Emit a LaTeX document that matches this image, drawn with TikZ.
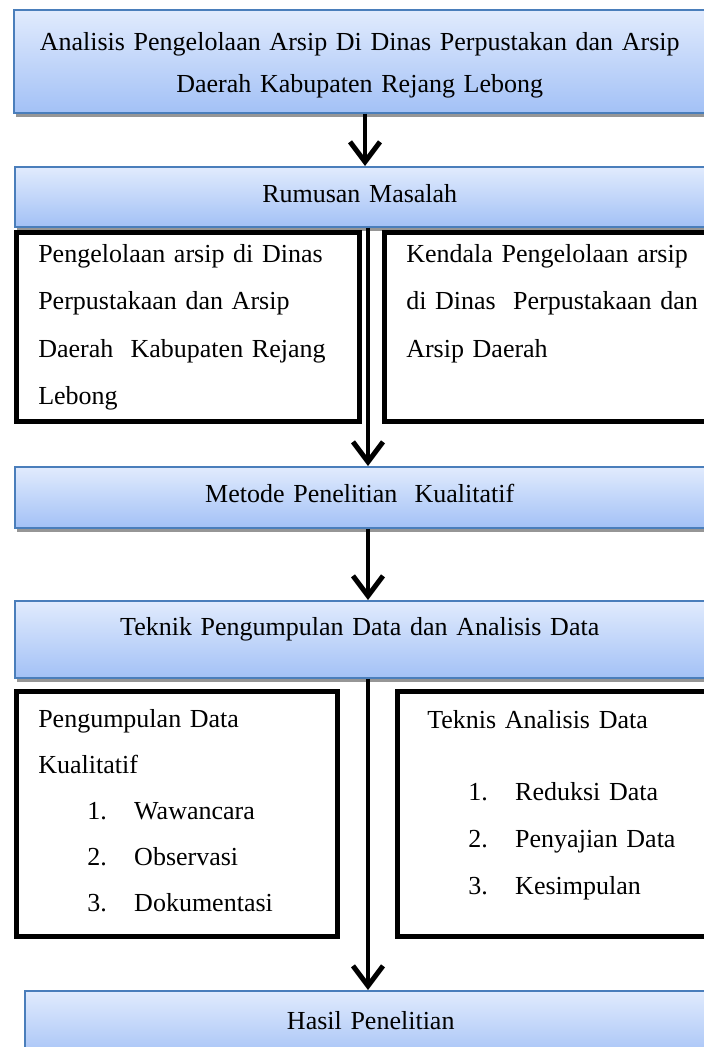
\documentclass[tikz,border=0pt]{standalone}
\usepackage{fontspec}
\setmainfont{Liberation Serif}
\usepackage{xcolor}
\usetikzlibrary{arrows.meta,shadows}
\definecolor{biruatas}{RGB}{225,235,253}
\definecolor{birubawah}{RGB}{163,193,246}
\definecolor{birugaris}{RGB}{74,126,187}
\definecolor{bayang}{RGB}{150,150,150}
\newcommand{\butir}[2]{\hspace*{#1}\makebox[47pt][l]{#2}}

\begin{document}
\begin{tikzpicture}[x=1pt, y=-1pt,
    kotakbiru/.style={draw=birugaris, line width=1.5pt, top color=biruatas,
                      bottom color=birubawah, anchor=north west, inner sep=0pt,
                      align=center, font=\fontsize{26}{42}\selectfont,
                      drop shadow={shadow xshift=2pt, shadow yshift=-4pt,
                                   fill=bayang, opacity=1}},
    kotakhitam/.style={draw, line width=4.5pt, fill=white, anchor=north west,
                       inner ysep=0pt, inner xsep=22pt, align=left,
                       font=\fontsize{26}{47.5}\selectfont},
    panah/.style={-{Straight Barb[length=20pt,width=30pt,line width=5pt]}, line width=4pt},
  ]
  \useasboundingbox (0,0) rectangle (704,1047);
  \clip (0,0) rectangle (704,1047);
  \fill[white] (0,0) rectangle (704,1047);

  \node[kotakbiru, text width=692pt, text height=41pt, text depth=62pt] (judul) at (13,9)
    {Analisis Pengelolaan Arsip Di Dinas Perpustakan dan Arsip\\Daerah Kabupaten Rejang Lebong};
  \node[kotakbiru, text width=690pt, text height=36pt, text depth=24pt] (rumusan) at (14,166)
    {Rumusan Masalah};

  % dua rumusan masalah
  \node[kotakhitam, text width=299pt, text height=30pt, text depth=159pt] (masalah1) at (14,230)
    {Pengelolaan arsip di Dinas\\Perpustakaan dan Arsip\\Daerah~ Kabupaten Rejang\\Lebong};
  \node[kotakhitam, text width=320pt, text height=30pt, text depth=159pt] (masalah2) at (382,230)
    {Kendala Pengelolaan arsip\\di Dinas~ Perpustakaan dan\\Arsip Daerah};

  \node[kotakbiru, text width=690pt, text height=36pt, text depth=25pt] (metode) at (14,466)
    {Metode Penelitian~ Kualitatif};
  \node[kotakbiru, text width=690pt, text height=35pt, text depth=42pt] (teknik) at (14,600)
    {Teknik Pengumpulan Data dan Analisis Data};

  % pengumpulan dan analisis data
  \node[kotakhitam, font=\fontsize{26}{46}\selectfont, text width=277pt,
        text height=36pt, text depth=209pt] (kumpul) at (14,689)
    {Pengumpulan Data\\Kualitatif\\\butir{49pt}{1.}Wawancara\\\butir{49pt}{2.}Observasi\\\butir{49pt}{3.}Dokumentasi};
  \node[kotakhitam, font=\fontsize{26}{47}\selectfont, inner xsep=30pt, text width=254pt,
        text height=37pt, text depth=208pt] (analisis) at (395,689)
    {Teknis Analisis Data\\[25pt]\butir{41pt}{1.}Reduksi Data\\\butir{41pt}{2.}Penyajian Data\\\butir{41pt}{3.}Kesimpulan};

  \node[kotakbiru, text width=692pt, text height=39pt, text depth=31pt] (hasil) at (24,990)
    {Hasil Penelitian};

  \coordinate (jalur1) at (365,0);
  \coordinate (jalur2) at (368,0);
  \draw[panah] (judul.south -| jalur1) -- (rumusan.north -| jalur1);
  \draw[panah] (rumusan.south -| jalur2) -- (metode.north -| jalur2);
  \draw[panah] (metode.south -| jalur2) -- (teknik.north -| jalur2);
  \draw[panah] (teknik.south -| jalur2) -- (hasil.north -| jalur2);
\end{tikzpicture}
\end{document}
